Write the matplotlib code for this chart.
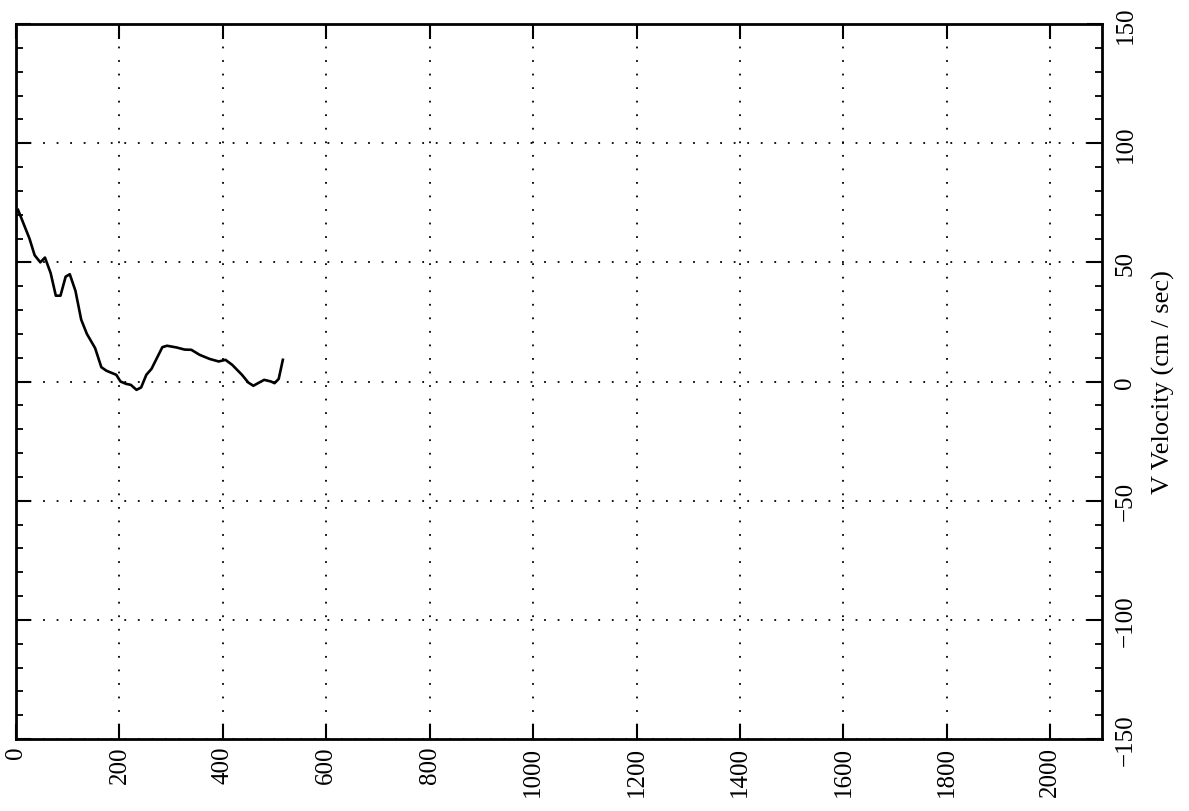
import matplotlib
matplotlib.use("Agg")
import matplotlib.pyplot as plt
from matplotlib.ticker import MultipleLocator

time_x = [4, 26, 36, 47, 56, 67, 77, 86, 96, 104, 115, 126, 137, 153, 165, 175,
          194, 202, 213, 222, 233, 242, 252, 262, 283, 292, 310, 326, 339, 355,
          374, 392, 405, 418, 437, 449, 459, 468, 480, 493, 500, 508, 516]
v_velocity = [72, 60, 53, 50, 52, 45.5, 36, 36, 44, 45, 38, 26, 20, 14, 6, 4.5,
              2.8, 0, -1, -1.4, -3.5, -2.5, 2.8, 5.3, 14.4, 15, 14.3, 13.4, 13.3, 11.2,
              9.5, 8.4, 9.1, 7, 2.8, -0.4, -1.8, -0.7, 0.7, 0, -0.7, 1.1, 9.1]
x_ticks = [0, 200, 400, 600, 800, 1000, 1200, 1400, 1600, 1800, 2000]
y_ticks = [-150, -100, -50, 0, 50, 100, 150]
y_label = "V Velocity (cm / sec)"

plt.rcParams['font.family'] = ['Liberation Serif', 'DejaVu Serif']

fig = plt.figure(figsize=(11.89, 8.12), dpi=100)
ax = fig.add_axes([16/1189, 72/812, (1102-16)/1189, (740-25)/812])

ax.plot(time_x, v_velocity, color='black', lw=1.9)
ax.set_xlim(0, 2100)
ax.set_ylim(-150, 150)
ax.set_xticks(x_ticks)
ax.set_yticks(y_ticks)
ax.yaxis.set_minor_locator(MultipleLocator(10))
ax.grid(True, which='major', color='black', linestyle=(0, (1, 6.5)), linewidth=1.3)

ax.tick_params(axis='both', which='major', direction='in', length=11, width=1.5,
               top=True, right=True, labelsize=18)
ax.tick_params(axis='y', which='minor', direction='in', length=5, width=1.3,
               left=True, right=True)
ax.tick_params(axis='y', labelleft=False, labelright=True, labelrotation=90, pad=9)
ax.tick_params(axis='x', labelrotation=90, pad=5)
ax.set_yticklabels([str(t).replace('-', '\u2212') for t in y_ticks])
for lbl in ax.get_yticklabels():
    lbl.set_va('center')
    lbl.set_ha('left')
for lbl in ax.get_xticklabels():
    lbl.set_ha('center')
    lbl.set_va('top')

for s in ax.spines.values():
    s.set_linewidth(2)

ax.yaxis.set_label_position('right')
ax.set_ylabel(y_label, fontsize=19, rotation=90)
ax.yaxis.set_label_coords(1.046, 0.5)

fig.savefig("out.png", dpi=100, facecolor='white')
